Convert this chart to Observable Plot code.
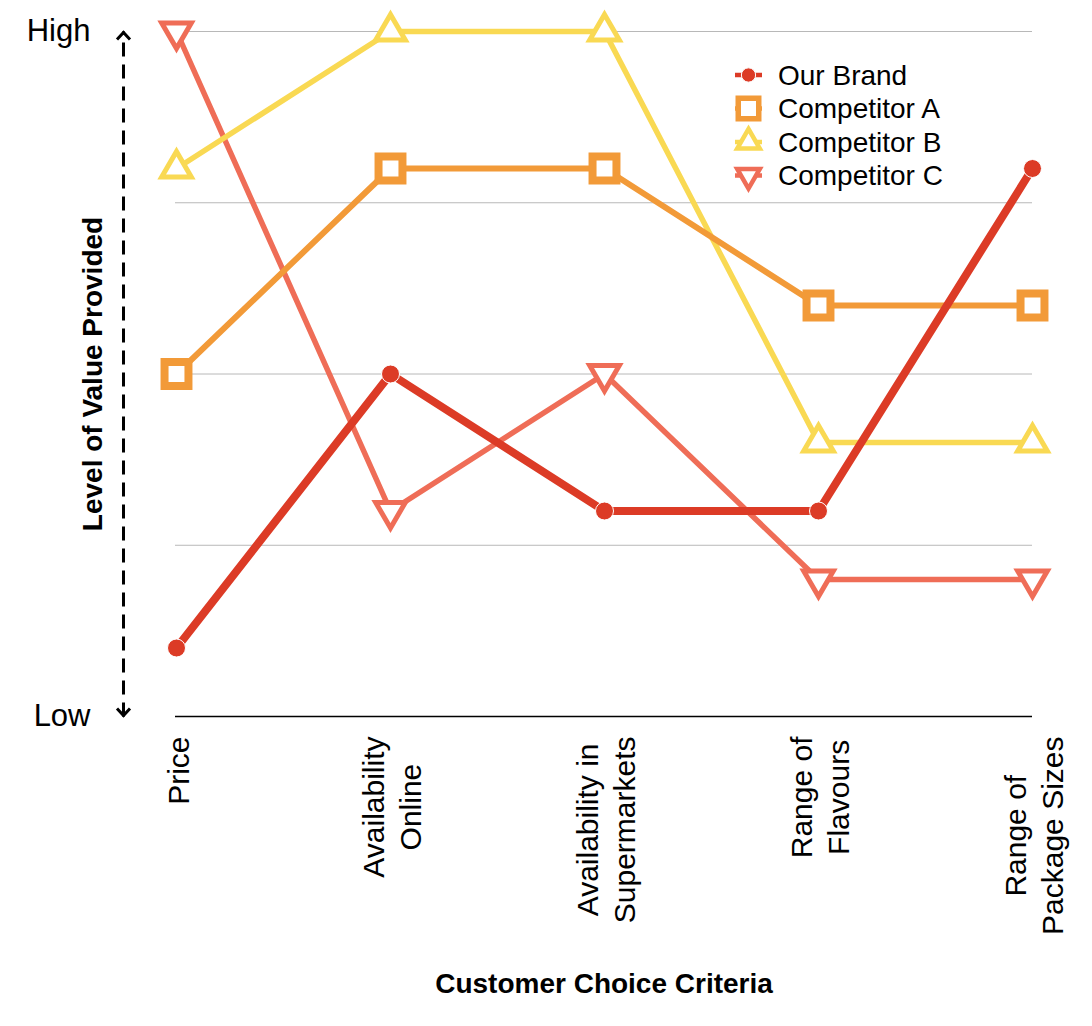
<!DOCTYPE html>
<html><head><meta charset="utf-8">
<script src="https://cdn.jsdelivr.net/npm/d3@7"></script>
<script src="https://cdn.jsdelivr.net/npm/@observablehq/plot@0.6"></script>
<style>
body{margin:0;background:#fff;}
#wrap{position:relative;width:1092px;height:1026px;font-family:"Liberation Sans",Arial,Helvetica,sans-serif;}
#legend{position:absolute;left:725px;top:55px;}
</style></head><body><div id="wrap"></div>
<script>
// ---- data ----
const categories = ["Price", "Availability\nOnline", "Availability in\nSupermarkets", "Range of\nFlavours", "Range of\nPackage Sizes"];
const seriesNames = ["Our Brand", "Competitor A", "Competitor B", "Competitor C"];
const ourBrand    = [1, 5, 3, 3, 8];
const competitorA = [5, 8, 8, 6, 6];
const competitorB = [8, 10, 10, 4, 4];
const competitorC = [10, 3, 5, 2, 2];
const seriesColors = ["#DC3B26", "#F29A38", "#F9D953", "#EF6D57"];
const yTickValues = [0, 10];
const yTickLabels = ["Low", "High"];
const gridValues = [2.5, 5, 7.5, 10];
const xTitle = "Customer Choice Criteria";
const yTitle = "Level of Value Provided";

const seriesValues = [ourBrand, competitorA, competitorB, competitorC];
const rows = seriesNames.flatMap((s, i) => categories.map((c, j) => ({series: s, category: c, value: seriesValues[i][j]})));

const styles = {
  "Our Brand":    {symbol: "circle",   r: 9,    fill: seriesColors[0], stroke: "white",          sw: 1, lw: 8,   rotate: 0},
  "Competitor A": {symbol: "square",   r: 13.5, fill: "white",         stroke: seriesColors[1],  sw: 8, lw: 6,   rotate: 0},
  "Competitor B": {symbol: "triangle", r: 11,   fill: "white",         stroke: seriesColors[2],  sw: 5, lw: 5.5, rotate: 0},
  "Competitor C": {symbol: "triangle", r: 11,   fill: "white",         stroke: seriesColors[3],  sw: 5, lw: 5.5, rotate: 180}
};

const font = "'Liberation Sans', Arial, Helvetica, sans-serif";
const ctx = document.createElement("canvas").getContext("2d");
ctx.font = "30px " + font;

const seriesMarks = [...seriesNames].reverse().flatMap(s => {
  const data = rows.filter(d => d.series === s);
  const st = styles[s];
  const color = seriesColors[seriesNames.indexOf(s)];
  return [
    Plot.line(data, {x: "category", y: "value", stroke: color, strokeWidth: st.lw, strokeLinejoin: "round"}),
    Plot.dot(data, {x: "category", y: "value", symbol: st.symbol, r: st.r, fill: st.fill, stroke: st.stroke, strokeWidth: st.sw, rotate: st.rotate})
  ];
});

const tickMarks = categories.map(c => {
  const w = d3.max(c.split("\n"), l => ctx.measureText(l).width);
  return Plot.text([c], {x: d => d, text: d => d, frameAnchor: "bottom", rotate: -90, textAnchor: "middle",
    lineAnchor: "middle", lineHeight: 1.25, fontSize: 30, dy: 20 + w / 2, fill: "black"});
});

// chevron arrow-head symbol (tip at origin, pointing up)
const chevron = {draw(context, size) { context.moveTo(-6.5, 8); context.lineTo(0, 1); context.lineTo(6.5, 8); }};

const chart = Plot.plot({
  width: 1092, height: 1026,
  marginLeft: 175, marginRight: 60, marginTop: 31, marginBottom: 310,
  style: {fontFamily: font, background: "white", color: "black"},
  x: {type: "point", domain: categories, padding: 0, axis: null},
  y: {domain: [0, 10], axis: null},
  marks: [
    Plot.ruleY(gridValues, {stroke: "#b8b8b8", strokeWidth: 1}),
    Plot.ruleY([yTickValues[0]], {stroke: "black", strokeWidth: 1.5}),
    Plot.axisY({ticks: yTickValues, tickFormat: d => yTickLabels[yTickValues.indexOf(d)], tickSize: 0, tickPadding: 85, fontSize: 31, label: null}),
    Plot.text([yTitle], {text: d => d, frameAnchor: "left", rotate: -90, dx: -82, fontSize: 28, fontWeight: "bold", textAnchor: "middle", lineAnchor: "middle"}),
    Plot.text([xTitle], {text: d => d, frameAnchor: "bottom", dy: 268, fontSize: 28, fontWeight: "bold", lineAnchor: "middle"}),
    Plot.link([yTickValues], {x1: () => categories[0], x2: () => categories[0], y1: d => d[0], y2: d => d[1], dx: -53,
      stroke: "black", strokeWidth: 3, strokeDasharray: "14,8"}),
    Plot.dot(yTickValues, {x: () => categories[0], y: d => d, dx: -53, symbol: chevron, r: 5,
      rotate: d => (d === yTickValues[0] ? 180 : 0), fill: "none", stroke: "black", strokeWidth: 3}),
    ...tickMarks,
    ...seriesMarks
  ]
});
const wrap = document.getElementById("wrap");
wrap.appendChild(chart);

// ---- legend ----
const leg = d3.select(wrap).append("svg").attr("id", "legend").attr("width", 300).attr("height", 145);
const symMap = {circle: d3.symbolCircle, square: d3.symbolSquare, triangle: d3.symbolTriangle};
const legendSizes = {"Our Brand": [160, 1], "Competitor A": [420, 5.5], "Competitor B": [220, 4.5], "Competitor C": [220, 4.5]};
seriesNames.forEach((s, i) => {
  const st = styles[s];
  const color = seriesColors[i];
  const g = leg.append("g").attr("transform", `translate(0,${20 + i * 33.5})`);
  g.append("line").attr("x1", 10).attr("x2", 37).attr("stroke", color).attr("stroke-width", 4.5);
  g.append("path").attr("d", d3.symbol(symMap[st.symbol], legendSizes[s][0])())
    .attr("transform", `translate(23.5,0) rotate(${st.rotate})`)
    .attr("fill", st.fill).attr("stroke", st.stroke).attr("stroke-width", legendSizes[s][1]);
  g.append("text").attr("x", 53).attr("dy", "0.35em").attr("font-size", 28).attr("font-family", font).text(s);
});
</script></body></html>
